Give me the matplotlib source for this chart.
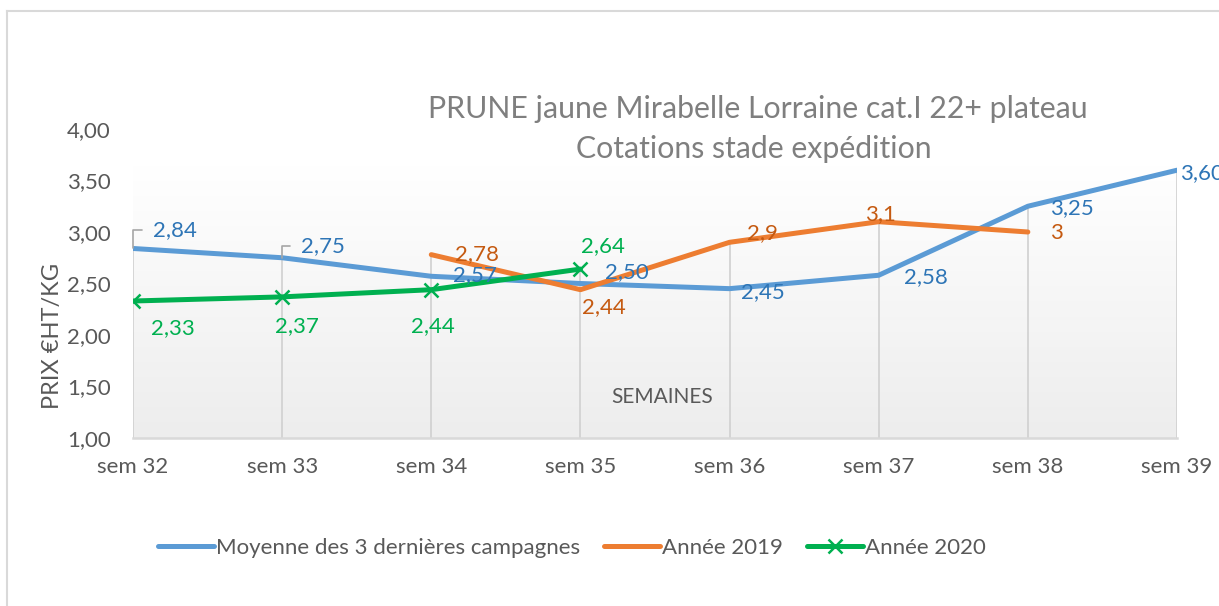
import numpy as np
import matplotlib
matplotlib.use("Agg")
import matplotlib.pyplot as plt
from matplotlib.colors import LinearSegmentedColormap
from matplotlib.lines import Line2D

plt.rcParams['font.family'] = ['Lato', 'DejaVu Sans']

semaines = ['sem 32', 'sem 33', 'sem 34', 'sem 35', 'sem 36', 'sem 37', 'sem 38', 'sem 39']
moyenne = [2.84, 2.75, 2.57, 2.50, 2.45, 2.58, 3.25, 3.60]
annee_2019 = [None, None, 2.78, 2.44, 2.9, 3.1, 3.0, None]
annee_2020 = [2.33, 2.37, 2.44, 2.64, None, None, None, None]
lab_moy = ['2,84', '2,75', '2,57', '2,50', '2,45', '2,58', '3,25', '3,60']
lab_2019 = [None, None, '2,78', '2,44', '2,9', '3,1', '3', None]
lab_2020 = ['2,33', '2,37', '2,44', '2,64', None, None, None, None]

# decalage des etiquettes en pixels (dx, dy vers le haut)
off_moy = [(42, 18), (41, 12), (44, 1), (46, 11), (33, -3), (47, -2), (44, -2), (25, -3)]
off_2019 = [None, None, (46, 1), (23, -17), (33, 9), (2, 8), (29, -1), None]
off_2020 = [(40, -27), (15, -29), (2, -36), (23, 23), None, None, None, None]

c_blue, c_orange, c_green = '#5B9BD5', '#ED7D31', '#00B050'
t_blue, t_orange, t_green = '#2E75B6', '#C55A11', '#00B050'
grey_txt = '#595959'

fig = plt.figure(figsize=(12.19, 6.06), dpi=100)
ax = fig.add_axes([133/1219, 1-438/606, 1044/1219, 309/606])
x = np.arange(len(semaines))

# fond en degrade
cmap = LinearSegmentedColormap.from_list('g', ['#ffffff', '#ededed'])
grad = np.linspace(0, 1, 256).reshape(-1, 1)
ax.imshow(grad, extent=[0, 7, 1, 3.65], aspect='auto', cmap=cmap, origin='upper', zorder=0)

# lignes de projection
for i in range(len(semaines)):
    vals = [v for v in (moyenne[i], annee_2019[i], annee_2020[i]) if v is not None]
    ax.plot([x[i], x[i]], [1, max(vals)], color='#d0d0d0', lw=1.2, zorder=1)

def series(vals):
    return np.array([np.nan if v is None else v for v in vals], dtype=float)

ax.plot(x, series(moyenne), color=c_blue, lw=3.6, solid_capstyle='round', solid_joinstyle='round', zorder=3,
        label='Moyenne des 3 dernières campagnes')
ax.plot(x, series(annee_2019), color=c_orange, lw=3.6, solid_capstyle='round', solid_joinstyle='round', zorder=3,
        label='Année 2019')
ax.plot(x, series(annee_2020), color=c_green, lw=3.6, marker='x', ms=10, mew=1.8, solid_capstyle='round',
        solid_joinstyle='round', zorder=4, label='Année 2020')

px = 72 / 100
for vals, labs, offs, col in [(moyenne, lab_moy, off_moy, t_blue),
                              (annee_2019, lab_2019, off_2019, t_orange),
                              (annee_2020, lab_2020, off_2020, t_green)]:
    for i, (v, l, o) in enumerate(zip(vals, labs, offs)):
        if v is None:
            continue
        kw = {}
        if col == t_blue and i < 2:
            kw = dict(arrowprops=dict(arrowstyle='-', color='#a6a6a6', lw=1.2, relpos=(0, 0.5),
                                      connectionstyle='angle,angleA=180,angleB=90,rad=0',
                                      shrinkA=6, shrinkB=0))
        ax.annotate(l, (x[i], v), xytext=(o[0]*px, o[1]*px), textcoords='offset points',
                    ha='center', va='center', color=col, fontsize=16, zorder=5,
                    annotation_clip=False, **kw)

ax.set_xlim(0, 7)
ax.set_ylim(1, 4)
ax.set_yticks([1, 1.5, 2, 2.5, 3, 3.5, 4])
ax.set_yticklabels(['1,00', '1,50', '2,00', '2,50', '3,00', '3,50', '4,00'])
ax.set_xticks(x)
ax.set_xticklabels(semaines)
ax.tick_params(axis='both', length=0, labelsize=16, labelcolor=grey_txt)
ax.tick_params(axis='y', pad=16)
ax.tick_params(axis='x', pad=14)
for s in ['top', 'right', 'left']:
    ax.spines[s].set_visible(False)
ax.spines['bottom'].set_color('#d9d9d9')
ax.spines['bottom'].set_linewidth(1.8)
ax.spines['bottom'].set_bounds(0, 7)
ax.patch.set_alpha(0)

ax.set_ylabel('PRIX €HT/KG', fontsize=17, color=grey_txt)
ax.yaxis.set_label_coords(-0.067, 0.33)
ax.text(3.55, 1.4, 'SEMAINES', fontsize=15, color=grey_txt, ha='center', va='center')

fig.text(758/1219, 1-109/606, 'PRUNE jaune Mirabelle Lorraine cat.I 22+ plateau', fontsize=21.8,
         color='#7f7f7f', ha='center', va='center')
fig.text(754/1219, 1-149/606, 'Cotations stade expédition', fontsize=21.8,
         color='#7f7f7f', ha='center', va='center')

fig.legend(loc='center', bbox_to_anchor=(572/1219, 1-548/606), ncol=3, frameon=False, fontsize=16,
           labelcolor=grey_txt, handlelength=2.5, handletextpad=0.1, columnspacing=1.1)

# bordure du graphique
fig.add_artist(Line2D([7/1219, 7/1219], [0, 1-11/606], color='#d9d9d9', lw=1.5))
fig.add_artist(Line2D([7/1219, 1], [1-11/606, 1-11/606], color='#d9d9d9', lw=1.5))

fig.savefig('out.png', dpi=100)
